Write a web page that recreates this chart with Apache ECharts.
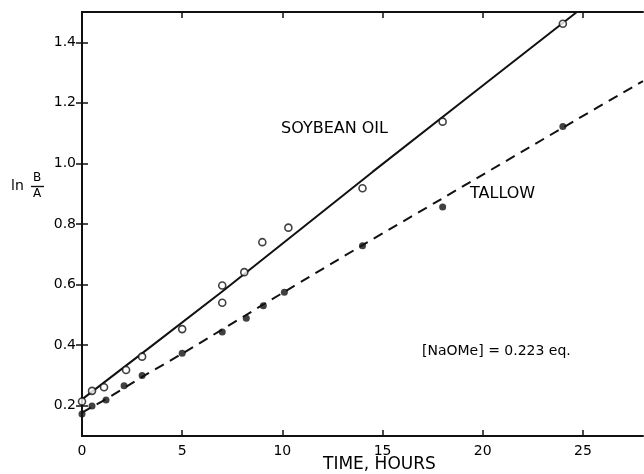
<!DOCTYPE html>
<html>
<head>
<meta charset="utf-8">
<script src="https://cdn.jsdelivr.net/npm/echarts@6/dist/echarts.min.js"></script>
<style>html,body{margin:0;padding:0;background:#fff}#c{width:644px;height:474px}</style>
</head>
<body>
<div id="c"></div>
<script>
// Data
var soyTime   = [0, 0.5, 1.1, 2.2, 3.0, 5.0, 7.0, 7.0, 8.1, 9.0, 10.3, 14.0, 18.0, 24.0];
var soyValue  = [0.214, 0.249, 0.261, 0.318, 0.362, 0.453, 0.597, 0.540, 0.641, 0.740, 0.788, 0.918, 1.138, 1.461];
var tallowTime  = [0, 0.5, 1.2, 2.1, 3.0, 5.0, 7.0, 8.2, 9.05, 10.1, 14.0, 18.0, 24.0];
var tallowValue = [0.173, 0.199, 0.219, 0.266, 0.300, 0.373, 0.443, 0.489, 0.530, 0.575, 0.728, 0.856, 1.122];
// fitted curves
var soyFitTime  = [0, 7, 14.5, 24.7];
var soyFitValue = [0.221, 0.577, 0.972, 1.5];
var tallowFitTime  = [0, 0.5, 1.2, 3, 5, 10, 14, 18, 24, 28];
var tallowFitValue = [0.177, 0.196, 0.222, 0.295, 0.372, 0.572, 0.730, 0.885, 1.118, 1.272];
// ticks
var xTicks = [0, 5, 10, 15, 20, 25];
var yTicks = [0.2, 0.4, 0.6, 0.8, 1.0, 1.2, 1.4];

function pairs(xs, ys){ return xs.map(function(x,i){ return [x, ys[i]]; }); }

var FONT = 'DejaVu Sans';
var chart = echarts.init(document.getElementById('c'));
var axisLine = {show: true, lineStyle: {color: '#111', width: 2}};
var tickIn = {show: true, inside: true, length: 6, lineStyle: {color: '#111', width: 1.5}};
var lbl = {color: '#000', fontFamily: FONT, fontSize: 14};
function txt(s, size){ return {text: s, font: size + 'px "DejaVu Sans"', fill: '#000'}; }

chart.setOption({
  animation: false,
  backgroundColor: '#fff',
  grid: {left: 82, right: 1, top: 12, bottom: 38},
  xAxis: [
    {type: 'value', min: 0, max: 28, position: 'bottom',
     axisLine: axisLine,
     axisTick: Object.assign({customValues: xTicks}, tickIn),
     axisLabel: Object.assign({customValues: xTicks, margin: 8}, lbl),
     splitLine: {show: false}},
    {type: 'value', min: 0, max: 28, position: 'top',
     axisLine: axisLine,
     axisTick: Object.assign({customValues: xTicks}, tickIn),
     axisLabel: {show: false},
     splitLine: {show: false}}
  ],
  yAxis: [
    {type: 'value', min: 0.1, max: 1.5, position: 'left',
     axisLine: axisLine,
     axisTick: Object.assign({customValues: yTicks}, tickIn),
     axisLabel: Object.assign({customValues: yTicks, margin: 6,
                 formatter: function(v){ return v.toFixed(1); }}, lbl),
     splitLine: {show: false}},
    {type: 'value', min: 0.1, max: 1.5, position: 'right',
     axisLine: axisLine,
     axisTick: Object.assign({customValues: yTicks}, tickIn),
     axisLabel: {show: false},
     splitLine: {show: false}}
  ],
  series: [
    {type: 'line', name: 'Soybean fit', data: pairs(soyFitTime, soyFitValue), showSymbol: false, symbol: 'none',
     lineStyle: {color: '#111', width: 2}, smooth: 0.2, z: 2},
    {type: 'line', name: 'Tallow fit', data: pairs(tallowFitTime, tallowFitValue), showSymbol: false, symbol: 'none',
     lineStyle: {color: '#111', width: 2, type: [10, 7]}, smooth: 0.3, z: 2},
    {type: 'scatter', name: 'Soybean oil', data: pairs(soyTime, soyValue), symbol: 'circle', symbolSize: 7,
     itemStyle: {color: '#fff', borderColor: '#111', borderWidth: 1.6}, z: 3},
    {type: 'scatter', name: 'Tallow', data: pairs(tallowTime, tallowValue), symbol: 'circle', symbolSize: 7,
     itemStyle: {color: '#111'}, z: 3}
  ],
  graphic: [
    {type: 'text', left: 281, top: 121, style: txt('SOYBEAN OIL', 16)},
    {type: 'text', left: 470, top: 186, style: txt('TALLOW', 16)},
    {type: 'text', left: 422, top: 344, style: txt('[NaOMe] = 0.223 eq.', 14)},
    {type: 'text', left: 323, top: 456, style: txt('TIME, HOURS', 17)},
    {type: 'text', left: 11, top: 179, style: txt('ln', 14)},
    {type: 'text', left: 33, top: 172, style: txt('B', 12)},
    {type: 'line', shape: {x1: 31, y1: 186.5, x2: 44, y2: 186.5}, style: {stroke: '#111', lineWidth: 1.4}},
    {type: 'text', left: 33, top: 188, style: txt('A', 12)}
  ]
});
</script>
</body>
</html>
